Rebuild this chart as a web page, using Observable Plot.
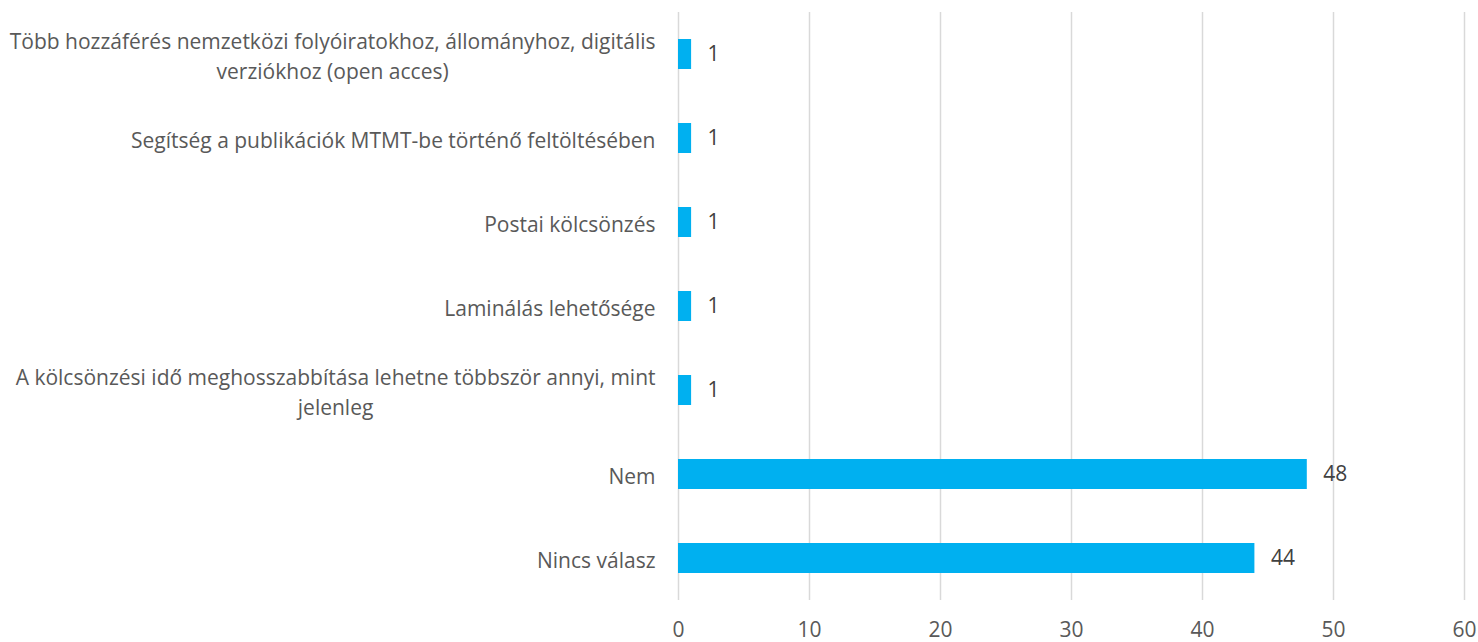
<!DOCTYPE html>
<html>
<head>
<meta charset="utf-8">
<script src="https://cdn.jsdelivr.net/npm/d3@7"></script>
<script src="https://cdn.jsdelivr.net/npm/@observablehq/plot@0.6"></script>
<style>
  html, body { margin: 0; padding: 0; background: #fff; }
</style>
</head>
<body>
<div id="chart"></div>
<script>
const categories = [
  "Több hozzáférés nemzetközi folyóiratokhoz, állományhoz, digitális\nverziókhoz (open acces)",
  "Segítség a publikációk MTMT-be történő feltöltésében",
  "Postai kölcsönzés",
  "Laminálás lehetősége",
  "A kölcsönzési idő meghosszabbítása lehetne többször annyi, mint\njelenleg",
  "Nem",
  "Nincs válasz"
];
const values = [1, 1, 1, 1, 1, 48, 44];
const xTicks = [0, 10, 20, 30, 40, 50, 60];

const data = categories.map((c, i) => ({category: c, value: values[i]}));

const FS = 21;
const FONT = FS + "px 'Open Sans'";
const canvas = document.createElement("canvas");
const ctx = canvas.getContext("2d");
ctx.font = FONT;
const blockWidth = c => Math.max(...c.split("\n").map(s => ctx.measureText(s).width));
const GAP = 23;

const labelMarks = categories.map(c =>
  Plot.text([c], {
    y: d => d,
    text: d => d,
    frameAnchor: "left",
    textAnchor: "middle",
    dx: -(GAP + blockWidth(c) / 2),
    lineHeight: 1.42,
    fill: "#595959",
    fontSize: FS
  })
);

const chart = Plot.plot({
  width: 1478,
  height: 642,
  marginLeft: 678,
  marginRight: 14,
  marginTop: 12,
  marginBottom: 42,
  style: {fontFamily: "'Open Sans', sans-serif", fontSize: FS + "px", color: "#595959", background: "#fff"},
  x: {domain: [0, 60], ticks: xTicks, tickSize: 0, tickPadding: 22, label: null},
  y: {domain: categories, paddingInner: 0.643, paddingOuter: 0.3215, axis: null},
  marks: [
    Plot.gridX(xTicks, {stroke: "#d9d9d9", strokeOpacity: 1, strokeWidth: 1.5}),
    Plot.barX(data, {x: "value", y: "category", fill: "#00B0F0"}),
    Plot.text(data, {x: "value", y: "category", text: d => String(d.value), textAnchor: "start", dx: 16, fill: "#404040", fontSize: FS}),
    ...labelMarks
  ]
});
document.getElementById("chart").appendChild(chart);
</script>
</body>
</html>
